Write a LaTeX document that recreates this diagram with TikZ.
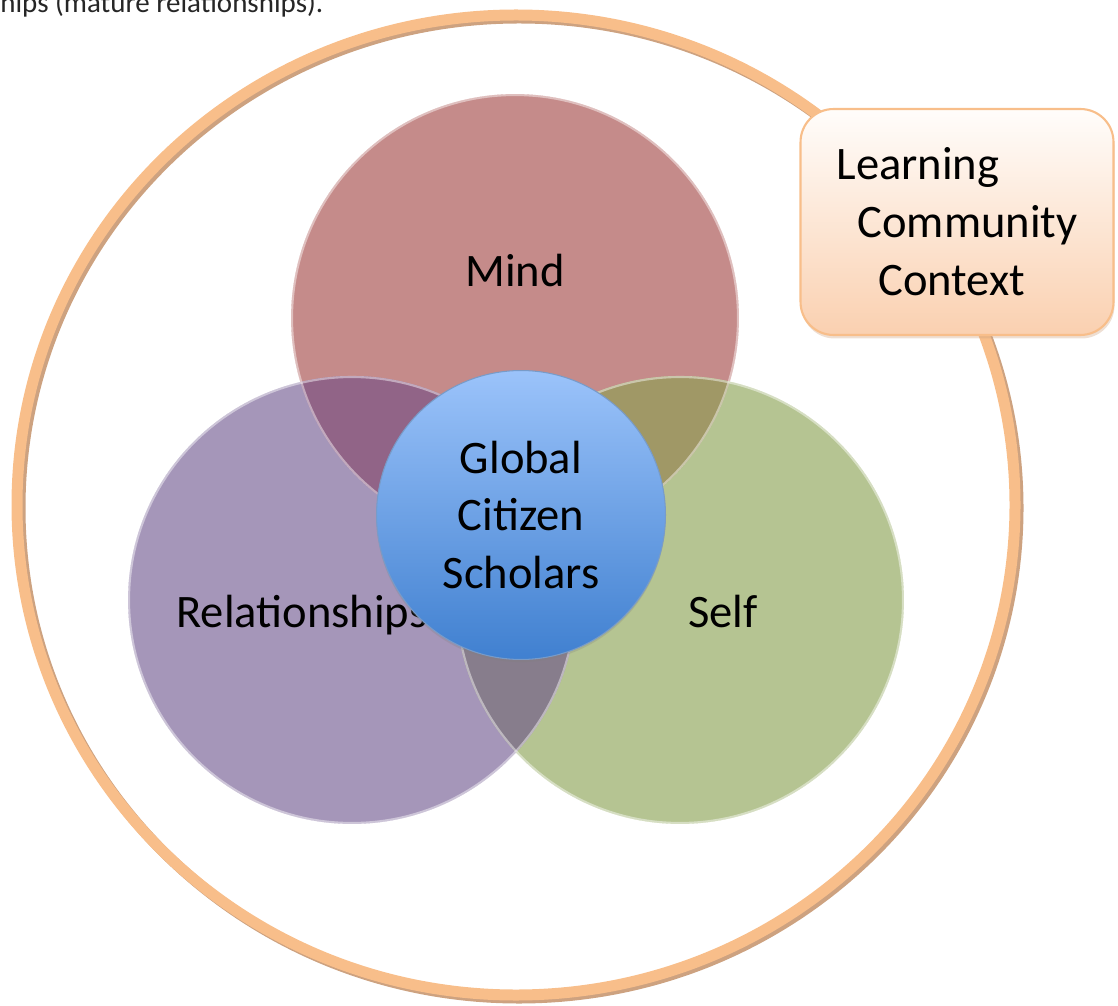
\documentclass[tikz,border=0pt]{standalone}
\usepackage{fontspec}
\setmainfont{Carlito}
\usetikzlibrary{shadows}
\definecolor{mindred}{RGB}{197,139,138}
\definecolor{relpurple}{RGB}{165,150,185}
\definecolor{selfgreen}{RGB}{181,196,146}
\definecolor{mindrel}{RGB}{145,100,135}
\definecolor{mindself}{RGB}{160,152,102}
\definecolor{relself}{RGB}{135,125,140}
\definecolor{ringpeach}{RGB}{248,190,138}
\definecolor{ringshade}{RGB}{205,162,128}
\definecolor{boxtop}{RGB}{255,253,251}
\definecolor{boxbottom}{RGB}{250,208,176}
\definecolor{gcstop}{RGB}{155,195,250}
\definecolor{gcsbottom}{RGB}{64,128,208}
\definecolor{gcsline}{RGB}{120,155,200}

\tikzset{
  bigfont/.style={font=\fontsize{26.5}{33}\selectfont},
  venn/.style={circle,minimum size=8.96cm,inner sep=0pt},
  vennrim/.style={draw=white,draw opacity=0.45,line width=1.2pt},
  ctxbox/.style={draw=ringpeach,line width=1.2pt,rounded corners=0.66cm,
    minimum width=6.26cm,minimum height=4.52cm,align=left,
    top color=boxtop,bottom color=boxbottom,
    drop shadow={shadow xshift=0.6pt,shadow yshift=-2pt,opacity=0.35,fill=ringshade}},
}

\begin{document}
\begin{tikzpicture}[x=0.02cm,y=-0.02cm]
    \useasboundingbox (0,0) rectangle (1118,1006);

    \node[anchor=base west,inner sep=0pt,font=\fontsize{16.5}{20}\selectfont,text=black!85] (note) at (0,13) {hips (mature relationships).};

    % outer ring
    \draw[ringshade,line width=0.22cm] (519,508) ellipse [x radius=499, y radius=490];
    \draw[ringpeach,line width=0.22cm] (516,505) ellipse [x radius=499, y radius=490];

    % the three circles
    \node[venn,fill=mindred] (mind) at (515,318) {};
    \node[venn,fill=relpurple] (rel) at (352,600) {};
    \node[venn,fill=selfgreen] (self) at (680,600) {};

    % overlaps
    \begin{scope}
        \clip (mind.center) circle [radius=224];
        \fill[mindrel] (rel.center) circle [radius=224];
        \fill[mindself] (self.center) circle [radius=224];
    \end{scope}
    \begin{scope}
        \clip (rel.center) circle [radius=224];
        \fill[relself] (self.center) circle [radius=224];
    \end{scope}
    \draw[vennrim] (mind.center) circle [radius=223];
    \draw[vennrim] (rel.center) circle [radius=223];
    \draw[vennrim] (self.center) circle [radius=223];

    \node[bigfont,anchor=base] (mindlbl) at (515,287) {Mind};
    \node[bigfont,anchor=base west,inner sep=0pt] (rellbl) at (176,627) {Relationships};
    \node[bigfont,anchor=base west,inner sep=0pt] (selflbl) at (688,627) {Self};

    % centre
    \node[circle,minimum size=5.78cm,inner sep=0pt,draw=gcsline,line width=0.6pt,
        top color=gcstop,bottom color=gcsbottom,align=center,bigfont,
        drop shadow={shadow xshift=0pt,shadow yshift=-1.5pt,opacity=0.25}]
        (gcs) at (521,515) {Global\\Citizen\\Scholars};

    % context box
    \node[ctxbox,bigfont] (ctx) at (957,222)
        {Learning\\\hspace*{0.42cm}Community\\\hspace*{0.84cm}Context};
\end{tikzpicture}
\end{document}
